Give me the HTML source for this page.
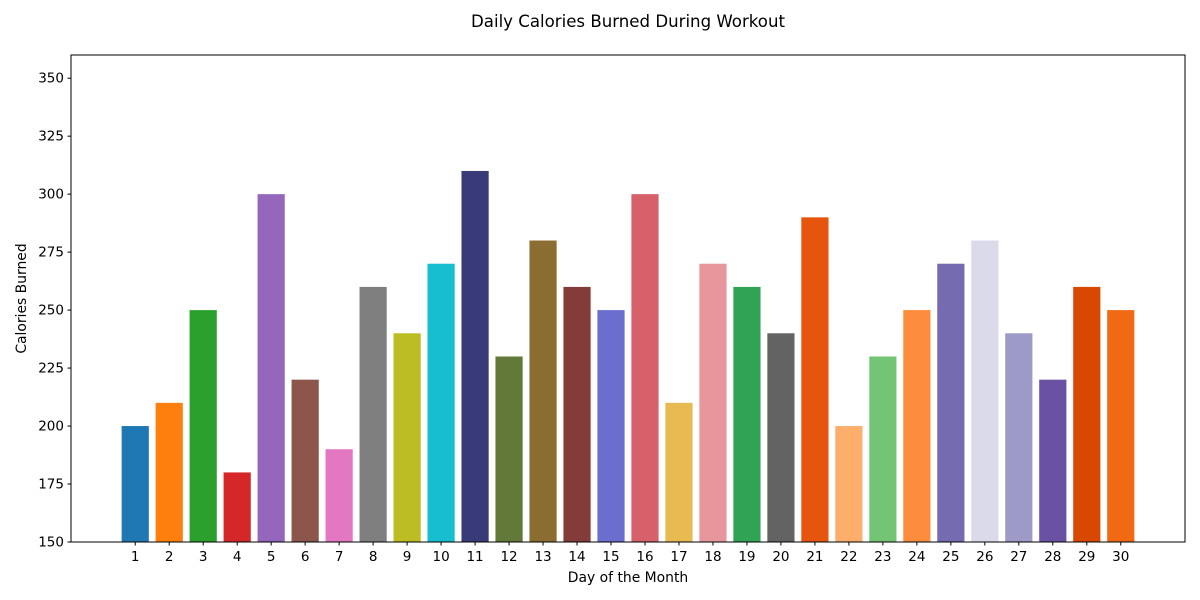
<!DOCTYPE html>
<html><head><meta charset="utf-8"><style>body{margin:0;background:#fff}svg{display:block;font-family:"DejaVu Sans","Liberation Sans",sans-serif}</style></head>
<body>
<svg id="chart" width="1200" height="600"></svg>
<script>
const days = Array.from({length:30},(_,i)=>String(i+1));
const calories = [200,210,250,180,300,220,190,260,240,270,310,230,280,260,250,300,210,270,260,240,290,200,230,250,270,280,240,220,260,250];
const colors = ["#1f77b4","#ff7f0e","#2ca02c","#d62728","#9467bd","#8c564b","#e377c2","#7f7f7f","#bcbd22","#17becf","#393b79","#637939","#8c6d31","#843c39","#6b6ecf","#d6616b","#e7ba52","#e7969c","#31a354","#636363","#e6550d","#fdae6b","#74c476","#fd8d3c","#756bb1","#dadaeb","#9e9ac8","#6a51a3","#d94801","#f16913"];
const yTicks = [150,175,200,225,250,275,300,325,350];
const NS="http://www.w3.org/2000/svg";
const svg=document.getElementById('chart');
const L=71,R=1185,T=55,B=542,ymin=150,ymax=360;
const n=days.length, xmin=1-0.4-0.05*(n-1+0.8), xmax=n+0.4+0.05*(n-1+0.8);
const xs=v=>L+(v-xmin)/(xmax-xmin)*(R-L);
const ys=v=>B-(v-ymin)/(ymax-ymin)*(B-T);
function mk(t,a,txt){const e=document.createElementNS(NS,t);for(const k in a)e.setAttribute(k,a[k]);if(txt!=null)e.textContent=txt;svg.appendChild(e);return e;}
calories.forEach((v,i)=>{
  const b=mk('rect',{x:xs(i+1-0.4),y:ys(v),width:xs(0.8)-xs(0),height:B-ys(v),fill:colors[i%colors.length]});
  
  
});
const f=mk('rect',{x:L,y:T,width:R-L,height:B-T,fill:'none',stroke:'#000','stroke-width':1});


yTicks.forEach(t=>{
  const y=ys(t);
  mk('line',{x1:L-3.5,x2:L,y1:y,y2:y,stroke:'#000'});
  const lb=mk('text',{x:L-7,y:y+4.5,'text-anchor':'end','font-size':13.5},t);
  
  
});
days.forEach((d,i)=>{
  const x=xs(i+1);
  mk('line',{x1:x,x2:x,y1:B,y2:B+3.5,stroke:'#000'});
  const lb=mk('text',{x:x,y:B+19,'text-anchor':'middle','font-size':13.5},d);
  
  
});
const t1=mk('text',{x:(L+R)/2,y:27,'text-anchor':'middle','font-size':16.6},'Daily Calories Burned During Workout');


const t2=mk('text',{x:(L+R)/2,y:582,'text-anchor':'middle','font-size':13.9},'Day of the Month');


const t3=mk('text',{x:26,y:(T+B)/2,'text-anchor':'middle','font-size':13.9,transform:`rotate(-90 26 ${(T+B)/2})`},'Calories Burned');


</script>
</body></html>
